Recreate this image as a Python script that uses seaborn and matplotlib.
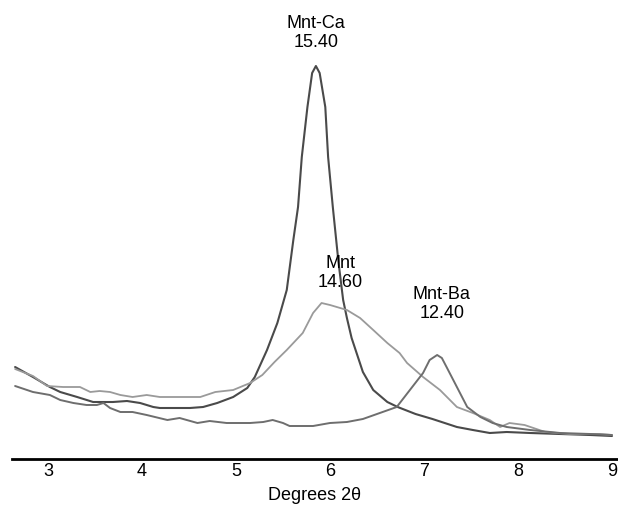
import matplotlib
matplotlib.use("Agg")
import matplotlib.pyplot as plt
import seaborn as sns
import pandas as pd

# XRD patterns, intensity in arbitrary units
ca_2theta = [2.65, 2.84, 3.02, 3.13, 3.31, 3.48, 3.63, 3.69, 3.84, 3.98, 4.12, 4.19, 4.35, 4.51, 4.65, 4.80, 4.97,
             5.12, 5.20, 5.33, 5.44, 5.54, 5.61, 5.66, 5.70, 5.76, 5.81, 5.85, 5.89, 5.95, 5.98, 6.03, 6.09, 6.14,
             6.18, 6.23, 6.29, 6.35, 6.46, 6.61, 6.72, 6.91, 7.09, 7.35, 7.52, 7.70, 7.88, 8.13, 8.45, 8.77, 9.00]
ca_int = [92, 82, 72, 67, 62, 57, 57, 57, 58, 56, 52, 51, 51, 51, 52, 56, 62,
          71, 82, 109, 136, 169, 219, 252, 302, 352, 386, 393, 386, 352, 302, 252, 197, 159,
          141, 121, 104, 87, 69, 57, 52, 45, 40, 32, 29, 26, 27, 26, 25, 24, 23]

mnt_2theta = [2.65, 2.84, 2.99, 3.16, 3.34, 3.45, 3.55, 3.66, 3.77, 3.90, 4.05, 4.19, 4.35, 4.62, 4.78, 4.97,
              5.15, 5.28, 5.41, 5.54, 5.71, 5.82, 5.91, 6.00, 6.18, 6.32, 6.46, 6.61, 6.74, 6.82, 6.99, 7.17,
              7.35, 7.52, 7.70, 7.81, 7.91, 8.07, 8.29, 8.55, 8.87, 9.00]
mnt_int = [90, 83, 73, 72, 72, 67, 68, 67, 64, 62, 64, 62, 62, 62, 67, 69,
           76, 84, 97, 109, 126, 146, 156, 154, 149, 141, 129, 116, 106, 96, 82, 69,
           52, 46, 39, 32, 36, 34, 27, 25, 25, 24]

ba_2theta = [2.65, 2.84, 3.02, 3.13, 3.27, 3.41, 3.52, 3.59, 3.66, 3.77, 3.90, 4.05, 4.27, 4.40, 4.59, 4.72,
             4.90, 5.15, 5.29, 5.39, 5.50, 5.57, 5.82, 6.00, 6.18, 6.35, 6.53, 6.71, 6.85, 6.99, 7.06, 7.14,
             7.19, 7.24, 7.35, 7.46, 7.60, 7.73, 7.88, 8.13, 8.45, 8.77, 9.00]
ba_int = [73, 67, 64, 59, 56, 54, 54, 56, 51, 47, 47, 44, 39, 41, 36, 38,
          36, 36, 37, 39, 36, 33, 33, 36, 37, 40, 46, 52, 69, 86, 99, 104,
          101, 92, 72, 52, 42, 36, 32, 29, 26, 25, 24]

labels = ["Mnt-Ca\n15.40", "Mnt\n14.60", "Mnt-Ba\n12.40"]
label_x = [5.85, 6.11, 7.19]
label_y = [426, 186, 155]

sns.set_style("white")
plt.rcParams['font.family'] = ['Liberation Sans', 'DejaVu Sans']
plt.rcParams['text.color'] = 'black'
plt.rcParams['xtick.color'] = 'black'
plt.rcParams['axes.labelcolor'] = 'black'

fig = plt.figure(figsize=(6.18, 5.08), dpi=100)
ax = fig.add_axes([12 / 618, 49 / 508, 606 / 618, 459 / 508])

sns.lineplot(x=ca_2theta, y=ca_int, ax=ax, color="#4a4a4a", linewidth=1.5)
sns.lineplot(x=mnt_2theta, y=mnt_int, ax=ax, color="#9a9a9a", linewidth=1.3)
sns.lineplot(x=ba_2theta, y=ba_int, ax=ax, color="#6e6e6e", linewidth=1.4)

for t, x, y in zip(labels, label_x, label_y):
    ax.text(x, y, t, ha="center", va="center", fontsize=13, linespacing=1.15)

ax.set_xlim(2.617, 9.064)
ax.set_ylim(0, 459)
ax.set_xticks([3, 4, 5, 6, 7, 8, 9])
ax.set_yticks([])
for s in ["left", "top", "right"]:
    ax.spines[s].set_visible(False)
ax.spines["bottom"].set_linewidth(2)
ax.spines["bottom"].set_color("black")
ax.tick_params(axis="x", direction="in", length=5, width=1.5, pad=3, labelsize=13)
ax.set_xlabel("Degrees 2θ", fontsize=13, labelpad=5)
ax.set_ylabel("")

fig.savefig("out.png", dpi=100)
